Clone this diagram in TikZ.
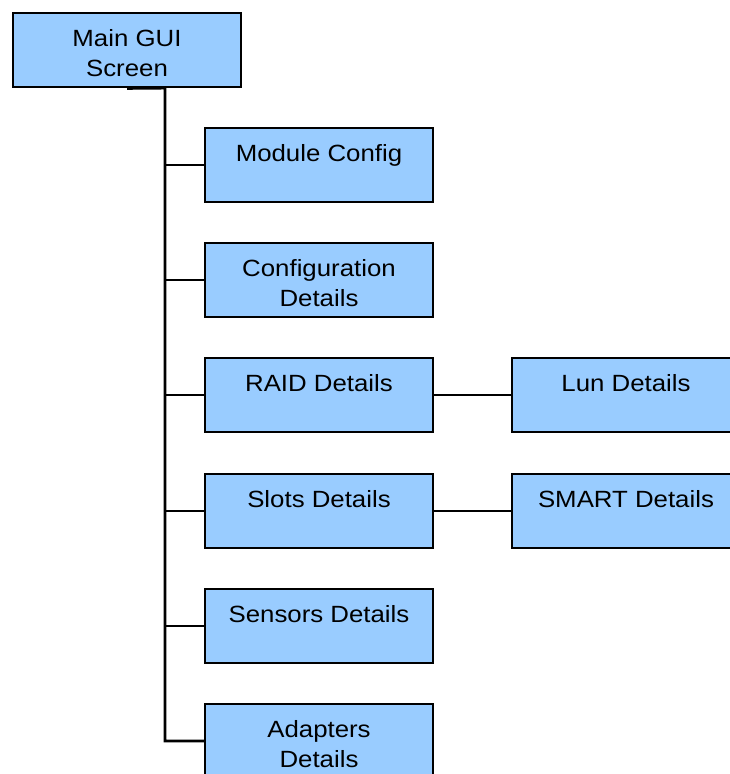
\documentclass[tikz,border=0pt]{standalone}
\usepackage{fontspec}
\setmainfont{Liberation Sans}[FakeStretch=1.1]
\begin{document}
\begin{tikzpicture}[x=0.75pt,y=-0.75pt,
  box/.style={draw=black,line width=1.5pt,fill=boxblue,rectangle,minimum width=171pt,minimum height=56pt,inner sep=0pt},
  lbl/.style={anchor=north,inner sep=0pt,align=center,font=\fontsize{17.6pt}{22.5pt}\selectfont},
  trunk/.style={draw=black,line width=2.2pt},
  branch/.style={draw=black,line width=1.5pt}]
\definecolor{boxblue}{HTML}{99CCFF}
\useasboundingbox (0,0) rectangle (730,774);
\clip (0,0) rectangle (730,774);
\node[box] (main) at (127,50) {};
\node[box] (mod) at (319,165) {};
\node[box] (conf) at (319,280) {};
\node[box] (raid) at (319,395) {};
\node[box] (slots) at (319,511) {};
\node[box] (sens) at (319,626) {};
\node[box] (adap) at (319,741) {};
\node[box] (lun) at (626,395) {};
\node[box] (smart) at (626,511) {};
\node[lbl] (main-t) at ([yshift=-13.1pt]main.north) {Main GUI\\Screen};
\node[lbl] (mod-t) at ([yshift=-13.1pt]mod.north) {Module Config};
\node[lbl] (conf-t) at ([yshift=-13.1pt]conf.north) {Configuration\\Details};
\node[lbl] (raid-t) at ([yshift=-13.1pt]raid.north) {RAID Details};
\node[lbl] (slots-t) at ([yshift=-13.1pt]slots.north) {Slots Details};
\node[lbl] (sens-t) at ([yshift=-13.1pt]sens.north) {Sensors Details};
\node[lbl] (adap-t) at ([yshift=-13.1pt]adap.north) {Adapters\\Details};
\node[lbl] (lun-t) at ([yshift=-13.1pt]lun.north) {Lun Details};
\node[lbl] (smart-t) at ([yshift=-13.1pt]smart.north) {SMART Details};
\coordinate (tt) at (165,88);
\coordinate (tb) at (165,741);
\draw[trunk] (main.south) -- (tt) -- (tb) -- (adap.west);
\draw[branch] (tt |- mod.west) -- (mod.west);
\draw[branch] (tt |- conf.west) -- (conf.west);
\draw[branch] (tt |- raid.west) -- (raid.west);
\draw[branch] (tt |- slots.west) -- (slots.west);
\draw[branch] (tt |- sens.west) -- (sens.west);
\draw[branch] (raid.east) -- (lun.west);
\draw[branch] (slots.east) -- (smart.west);
\end{tikzpicture}
\end{document}
